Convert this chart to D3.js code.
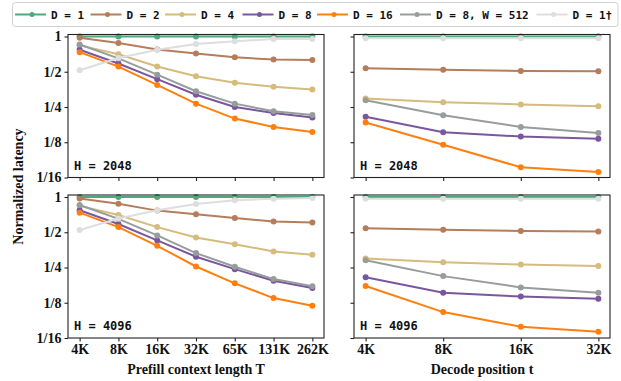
<!DOCTYPE html>
<html><head><meta charset="utf-8">
<script src="https://cdn.jsdelivr.net/npm/d3@7"></script>
<style>body{margin:0;background:#fff}svg{display:block}</style>
</head><body>
<script>
const prefillLabels = ["4K","8K","16K","32K","65K","131K","262K"];
const decodeLabels = ["4K","8K","16K","32K"];
const yTickValues = [1, 1/2, 1/4, 1/8, 1/16];
const yTickLabels = ["1","1/2","1/4","1/8","1/16"];
const seriesNames = ["D = 1","D = 2","D = 4","D = 8","D = 16","D = 8, W = 512","D = 1\u2020"];
const seriesColors = ["#4fa97c","#b57d5c","#d5bb7c","#7a56a0","#ff7f0e","#979c9c","#dedede"];
const panelTitles = ["H = 2048","H = 2048","H = 4096","H = 4096"];

// H=2048 prefill
const pre2048_D1   = [1,1,1,1,1,1,1];
const pre2048_D2   = [0.975,0.88,0.775,0.715,0.665,0.635,0.63];
const pre2048_D4   = [0.84,0.705,0.555,0.457,0.403,0.372,0.353];
const pre2048_D8   = [0.77,0.588,0.432,0.318,0.25,0.222,0.203];
const pre2048_D16  = [0.735,0.553,0.386,0.267,0.199,0.169,0.153];
const pre2048_W512 = [0.855,0.65,0.472,0.341,0.267,0.23,0.214];
const pre2048_D1d  = [0.515,0.655,0.772,0.862,0.91,0.952,0.952];
// H=2048 decode
const dec2048_D1   = [1,1,1,1];
const dec2048_D2   = [0.535,0.521,0.508,0.505];
const dec2048_D4   = [0.296,0.275,0.263,0.254];
const dec2048_D8   = [0.206,0.152,0.14,0.134];
const dec2048_D16  = [0.184,0.119,0.0765,0.0697];
const dec2048_W512 = [0.286,0.213,0.169,0.15];
const dec2048_D1d  = [0.967,0.967,0.967,0.967];
// H=4096 prefill
const pre4096_D1   = [1,1,1,1,1,1,1];
const pre4096_D2   = [0.972,0.875,0.765,0.712,0.662,0.617,0.607];
const pre4096_D4   = [0.84,0.702,0.553,0.451,0.395,0.343,0.321];
const pre4096_D8   = [0.77,0.588,0.426,0.309,0.242,0.193,0.167];
const pre4096_D16  = [0.735,0.553,0.383,0.255,0.183,0.137,0.118];
const pre4096_W512 = [0.855,0.65,0.47,0.332,0.254,0.199,0.173];
const pre4096_D1d  = [0.522,0.655,0.77,0.873,0.938,0.968,0.982];
// H=4096 decode
const dec4096_D1   = [1,1,1,1];
const dec4096_D2   = [0.54,0.526,0.512,0.508];
const dec4096_D4   = [0.298,0.277,0.265,0.258];
const dec4096_D8   = [0.206,0.152,0.141,0.135];
const dec4096_D16  = [0.174,0.104,0.078,0.0706];
const dec4096_W512 = [0.288,0.211,0.169,0.152];
const dec4096_D1d  = [0.967,0.967,0.967,0.967];

const panels = [
  {labels: prefillLabels, series:[pre2048_D1,pre2048_D2,pre2048_D4,pre2048_D8,pre2048_D16,pre2048_W512,pre2048_D1d], col:0, row:0},
  {labels: decodeLabels,  series:[dec2048_D1,dec2048_D2,dec2048_D4,dec2048_D8,dec2048_D16,dec2048_W512,dec2048_D1d], col:1, row:0},
  {labels: prefillLabels, series:[pre4096_D1,pre4096_D2,pre4096_D4,pre4096_D8,pre4096_D16,pre4096_W512,pre4096_D1d], col:0, row:1},
  {labels: decodeLabels,  series:[dec4096_D1,dec4096_D2,dec4096_D4,dec4096_D8,dec4096_D16,dec4096_W512,dec4096_D1d], col:1, row:1},
];

const W = 621, H = 381;
const svg = d3.select("body").append("svg").attr("width", W).attr("height", H);
const colX = [[68,324],[354,610]];
const rowY = [[34.5,177.5],[195,338]];
const serif = "'Liberation Serif','Times New Roman',serif";
const mono = "'DejaVu Sans Mono',monospace";

panels.forEach((p, pi) => {
  const [x0,x1] = colX[p.col], [y0,y1] = rowY[p.row];
  const n = p.labels.length;
  const pad = (n-1)*0.05;
  const x = d3.scaleLinear().domain([-pad, n-1+pad]).range([x0,x1]);
  const y = d3.scaleLog().base(2).domain([1/16, 1.04]).range([y1,y0]);
  const g = svg.append("g");

  p.series.forEach((vals, si) => {
    const line = d3.line().x((d,i)=>x(i)).y(d=>y(d));
    g.append("path").datum(vals).attr("d", line)
      .attr("fill","none").attr("stroke", seriesColors[si]).attr("stroke-width", 2);
    g.selectAll(null).data(vals).enter().append("circle")
      .attr("cx",(d,i)=>x(i)).attr("cy",d=>y(d)).attr("r",3)
      .attr("fill", seriesColors[si]);
  });

  g.append("rect").attr("x",x0).attr("y",y0).attr("width",x1-x0).attr("height",y1-y0)
    .attr("fill","none").attr("stroke","#222").attr("stroke-width",1.1);

  const yAxis = d3.axisLeft(y).tickValues(yTickValues).tickSize(3.5).tickPadding(3)
    .tickFormat((d,i)=> p.col===0 ? yTickLabels[i] : "");
  const ya = g.append("g").attr("transform",`translate(${x0},0)`).call(yAxis);
  const xAxis = d3.axisBottom(x).tickValues(d3.range(n)).tickSize(3.5).tickPadding(3)
    .tickFormat(i => p.row===1 ? p.labels[i] : "");
  const xa = g.append("g").attr("transform",`translate(0,${y1})`).call(xAxis);
  [ya,xa].forEach(a=>{
    a.select(".domain").remove();
    a.selectAll("line").attr("stroke","#222").attr("stroke-width",1.1);
    a.selectAll("text").attr("font-family",serif).attr("font-weight","bold")
      .attr("font-size",14).attr("fill","#111");
  });

  g.append("text").attr("x", x0+6).attr("y", y1-8)
    .attr("font-family",mono).attr("font-weight","bold").attr("font-size",12)
    .attr("fill","#111").text(panelTitles[pi]);
});

svg.append("text").attr("x",196).attr("y",374).attr("text-anchor","middle")
  .attr("font-family",serif).attr("font-weight","bold").attr("font-size",14).attr("fill","#111")
  .text("Prefill context length T");
svg.append("text").attr("x",482).attr("y",374).attr("text-anchor","middle")
  .attr("font-family",serif).attr("font-weight","bold").attr("font-size",14).attr("fill","#111")
  .text("Decode position t");
svg.append("text").attr("transform","translate(23,186.5) rotate(-90)").attr("text-anchor","middle")
  .attr("font-family",serif).attr("font-weight","bold").attr("font-size",14).attr("fill","#111")
  .text("Normalized latency");

// legend (entry x positions are layout)
const legX = [15, 90.5, 165, 242.5, 317, 400, 536.5];
const leg = svg.append("g");
leg.append("rect").attr("x",12.5).attr("y",2.5).attr("width",605.5).attr("height",24).attr("rx",3)
  .attr("fill","#fff").attr("stroke","#d0d0d0").attr("stroke-width",1);
const ly = 14.5;
seriesNames.forEach((name, i) => {
  const lx = legX[i];
  leg.append("line").attr("x1",lx).attr("x2",lx+31).attr("y1",ly).attr("y2",ly)
    .attr("stroke",seriesColors[i]).attr("stroke-width",2);
  leg.append("circle").attr("cx",lx+17).attr("cy",ly).attr("r",2.5).attr("fill",seriesColors[i]);
  leg.append("text").attr("x",lx+36).attr("y",ly+4)
    .attr("font-family",mono).attr("font-weight","bold").attr("font-size",11).attr("fill","#111")
    .attr("textLength", null)
    .text(name);
});
</script>
</body></html>
